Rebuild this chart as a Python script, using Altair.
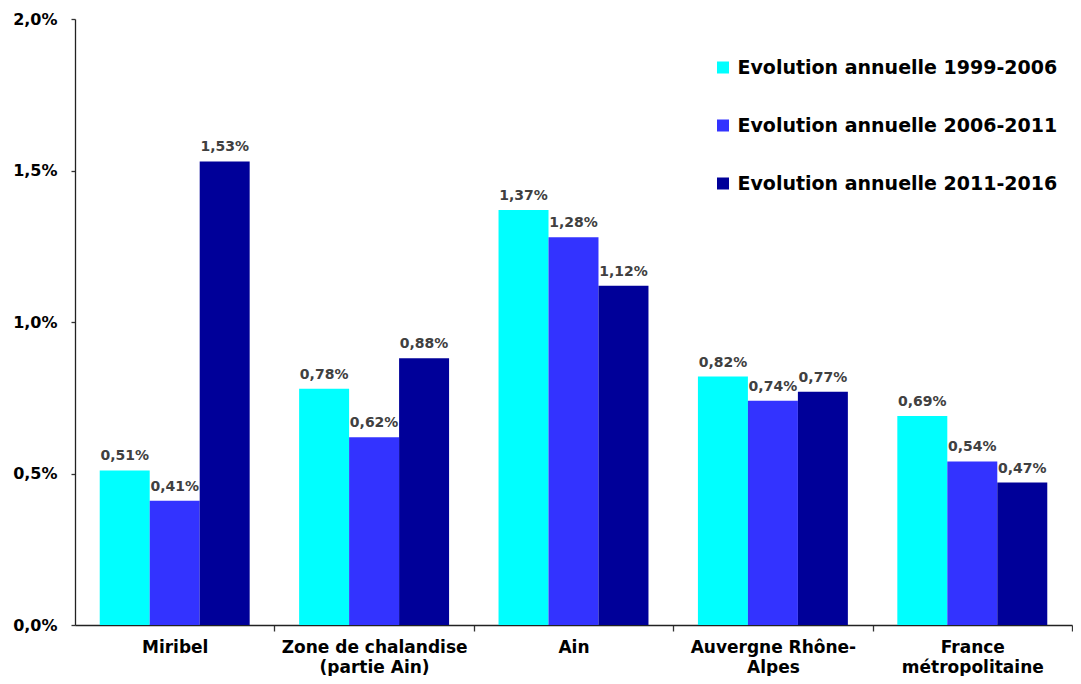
import altair as alt
import pandas as pd

categories = ["Miribel", "Zone de chalandise|(partie Ain)", "Ain",
              "Auvergne Rhône-|Alpes", "France|métropolitaine"]
series = ["Evolution annuelle 1999-2006", "Evolution annuelle 2006-2011",
          "Evolution annuelle 2011-2016"]
v_1999_2006 = [0.51, 0.78, 1.37, 0.82, 0.69]
v_2006_2011 = [0.41, 0.62, 1.28, 0.74, 0.54]
v_2011_2016 = [1.53, 0.88, 1.12, 0.77, 0.47]
colors = ["#00FFFF", "#3333FF", "#000099"]
y_ticks = [0, 0.5, 1.0, 1.5, 2.0]

rows = []
for s, vals in zip(series, [v_1999_2006, v_2006_2011, v_2011_2016]):
    for c, v in zip(categories, vals):
        rows.append({"cat": c, "serie": s, "val": v,
                     "lab": f"{v:.2f}".replace(".", ",") + "%"})
df = pd.DataFrame(rows)

FONT = "DejaVu Sans"

x_enc = alt.X("cat:N", sort=categories,
              scale=alt.Scale(paddingInner=0.248, paddingOuter=0.124),
              axis=alt.Axis(title=None, labelAngle=0,
                            labelExpr="isValid(datum.value) ? split(datum.value, '|') : ''",
                            bandPosition=1, tickOffset=24.7, labelOffset=-24.7,
                            tickSize=6, labelPadding=8, labelLimit=400,
                            labelFont=FONT, labelFontSize=17, labelFontWeight="bold",
                            labelColor="black", labelLineHeight=20,
                            domainColor="#222222", domainWidth=1.3,
                            tickColor="#333333", tickWidth=1.3, grid=False))
y_enc = alt.Y("val:Q", scale=alt.Scale(domain=[0, 2], nice=False),
              axis=alt.Axis(title=None, values=y_ticks,
                            labelExpr="replace(format(datum.value, '.1f'), '.', ',') + '%'",
                            tickSize=4, labelPadding=14, grid=False,
                            labelFont=FONT, labelFontSize=16, labelFontWeight="bold",
                            labelColor="black",
                            domainColor="#222222", domainWidth=1.3,
                            tickColor="#333333", tickWidth=1.3))
xoff = alt.XOffset("serie:N", sort=series)

bars = alt.Chart(df).mark_bar().encode(
    x=x_enc, y=y_enc, xOffset=xoff,
    color=alt.Color("serie:N", sort=series,
                    scale=alt.Scale(domain=series, range=colors),
                    legend=alt.Legend(title=None, orient="none", legendX=638.5, legendY=39,
                                      symbolType="square", symbolSize=144,
                                      symbolStrokeWidth=0, labelFont=FONT,
                                      labelFontSize=19, labelFontWeight="bold",
                                      labelColor="black", rowPadding=38,
                                      labelOffset=5, padding=0, labelLimit=600)),
)

labels = alt.Chart(df).mark_text(dy=-10, baseline="alphabetic", fontSize=14,
                                 fontWeight="bold", color="#404040", font=FONT).encode(
    x=alt.X("cat:N", sort=categories), y="val:Q", xOffset=xoff, text="lab:N"
)

chart = alt.layer(bars, labels).properties(
    width=997, height=606,
    autosize=alt.AutoSizeParams(type="none"),
    padding={"left": 67, "top": 11, "right": 1, "bottom": 51},
).configure_view(stroke=None)

chart.save("out.html", embed_options={"renderer": "svg", "actions": False})
